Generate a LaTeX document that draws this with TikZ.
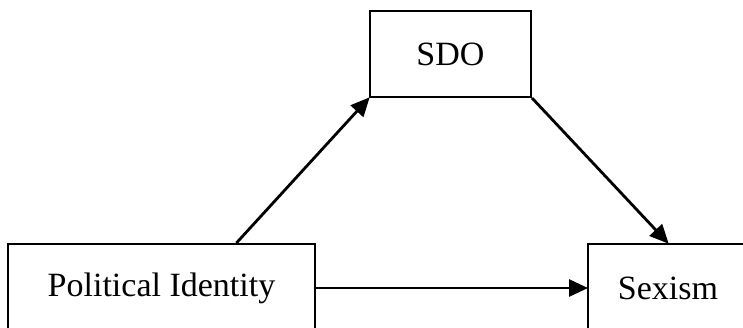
\documentclass[tikz,border=0pt]{standalone}
\usepackage{fontspec}
\setmainfont{Liberation Serif}
\usetikzlibrary{positioning}
\usetikzlibrary{arrows.meta}
\tikzset{
    varbox/.style = {rectangle, line width=2pt, draw=black, inner sep=0pt, font=\fontsize{34}{40}\selectfont},
    edgen/.style = {-{Triangle[length=19pt,width=17pt]}, line width=2.8pt, shorten >=-1pt},
}
\begin{document}
\begin{tikzpicture}[x=1pt,y=-1pt]
\useasboundingbox (0,0) rectangle (743,327);
\clip (0,0) rectangle (743,327);
\node[varbox,minimum width=161pt,minimum height=86pt] at (450.5, 54) (sdo) {SDO};
\node[varbox,minimum width=307pt,minimum height=88pt] at (161.5, 288) (pid) {Political Identity};
\node[varbox,minimum width=160pt,minimum height=88pt] at (668, 288) (sexism) {Sexism};

\draw[edgen] (pid.31) -- (sdo.south west);
\draw[edgen] (sdo.south east) -- (sexism.north);
\draw[edgen] (pid.east) -- (sexism.west);
\end{tikzpicture}
\end{document}
